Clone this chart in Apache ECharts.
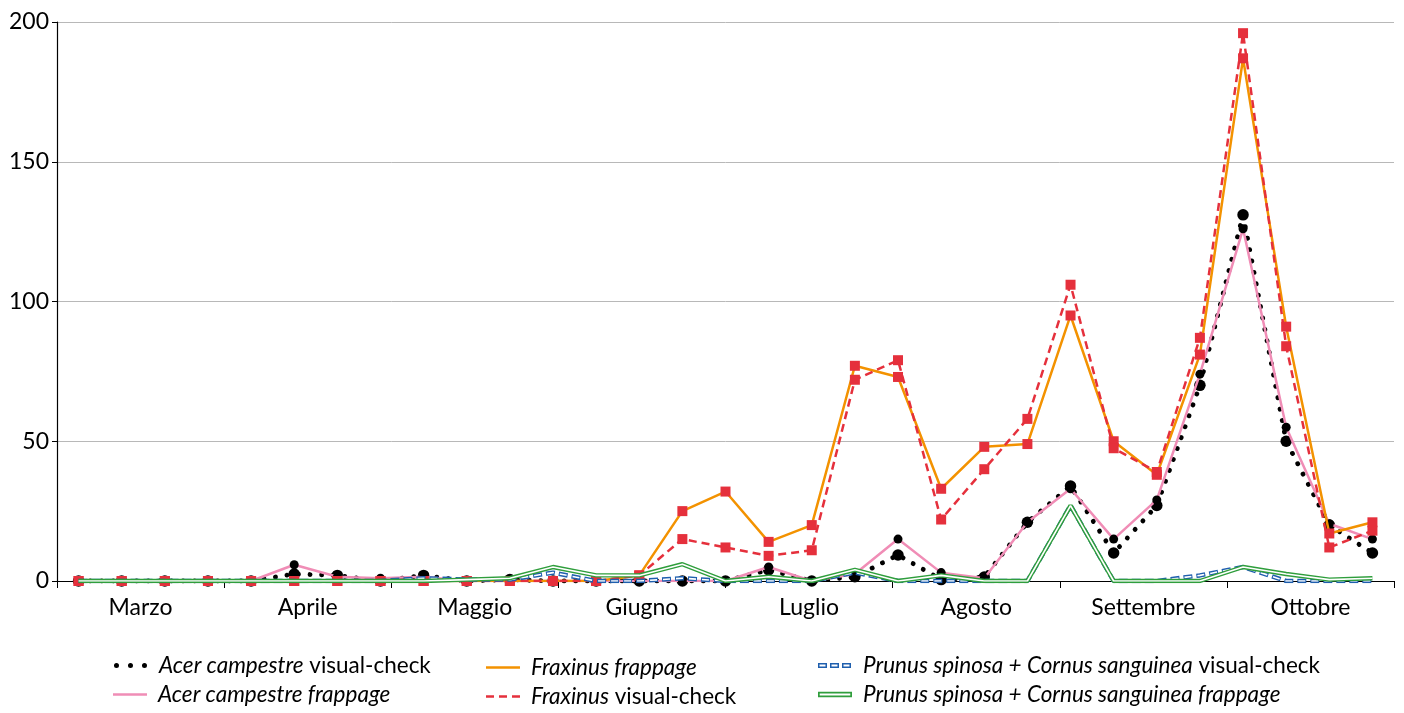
<!DOCTYPE html>
<html>
<head>
<meta charset="utf-8">
<script src="https://cdn.jsdelivr.net/npm/echarts@6/dist/echarts.min.js"></script>
<style>
html,body{margin:0;padding:0;background:#fff;}
#chart{width:1404px;height:713px;}
</style>
</head>
<body>
<div id="chart"></div>
<script>
// Sampling dates (31 weekly samples) – labels hidden
const weeks = ['1','2','3','4','5','6','7','8','9','10','11','12','13','14','15','16','17','18','19','20','21','22','23','24','25','26','27','28','29','30','31'];
// Month labels on the axis
const months = ['Marzo','Aprile','Maggio','Giugno','Luglio','Agosto','Settembre','Ottobre'];
// Y axis ticks
const yTicks = [0, 50, 100, 150, 200];

const acerVisual   = [0,0,0,0,0, 2.5,2,0,2,0, 0.5,0,0,0,0, 0,4,0,1.5,9.3, 0.5,1.4,21,34,10, 27,70,131,50,20, 10];
const acerFrappage = [0,0,0,0,0, 5.8,1.5,1,1.5,0, 0,0,0,0,0, 0,5,0,2.5,15, 3,1,21,33,15, 29,74,126,55,20.5, 15];
const fraxFrappage = [0,0,0,0,0, 0,0,0,0,0, 0,0,0,2,25, 32,14,20,77,73, 33,48,49,95,50, 38,81,187,91,17, 21];
const fraxVisual   = [0,0,0,0,0, 0,0,0,0,0, 0,0,0,2,15, 12,9,11,72,79, 22,40,58,106,47.5, 39,87,196,84,12, 18];
const prunVisual   = [0,0,0,0,0, 0,0,0,1,0.5, 0.5,3,0,0,1, 0,0,0,3,0, 0,0,0,27,0, 0,2,5,0,0, 0];
const prunFrappage = [0,0,0,0,0, 0,0,0,0,0.5, 1,5,2,2,6, 0,1.5,0,4,0, 2,0,0,27,0, 0,0,5,2.5,0.5, 1];

const names = [
  'Acer campestre visual-check',
  'Acer campestre frappage',
  'Fraxinus frappage',
  'Fraxinus visual-check',
  'Prunus spinosa + Cornus sanguinea visual-check',
  'Prunus spinosa + Cornus sanguinea frappage'
];

const C = {
  black:'#000000', pink:'#f08db6', orange:'#f39200', red:'#e5303c', blue:'#1f5fae', green:'#2f9e3c'
};
const FONT = 'Lato, "Open Sans", sans-serif';

const chart = echarts.init(document.getElementById('chart'), null, {renderer:'canvas'});

const pad = ' M40,0 L40.01,0 L40.01,0.01 Z';
const icons = {
  dots: 'path://M0,2.5 A2.5,2.5 0 1,0 5,2.5 A2.5,2.5 0 1,0 0,2.5 Z M14,2.5 A2.5,2.5 0 1,0 19,2.5 A2.5,2.5 0 1,0 14,2.5 Z M28,2.5 A2.5,2.5 0 1,0 33,2.5 A2.5,2.5 0 1,0 28,2.5 Z' + ' M40,0 L40.01,0 L40.01,0.01 Z M0,5 L0.01,5 L0.01,4.99 Z',
  line: 'path://M0,0 L34,0 L34,2.5 L0,2.5 Z' + pad,
  dash: 'path://M0,0 L8,0 L8,2.5 L0,2.5 Z M13,0 L21,0 L21,2.5 L13,2.5 Z M26,0 L34,0 L34,2.5 L26,2.5 Z' + pad,
  hollowDash: 'path://M0,0 L9,0 L9,5 L0,5 Z M1.5,1.5 L1.5,3.5 L7.5,3.5 L7.5,1.5 Z M12,0 L21,0 L21,5 L12,5 Z M13.5,1.5 L13.5,3.5 L19.5,3.5 L19.5,1.5 Z M24,0 L33,0 L33,5 L24,5 Z M25.5,1.5 L25.5,3.5 L31.5,3.5 L31.5,1.5 Z' + pad,
  double: 'path://M0,0 L34,0 L34,5.6 L0,5.6 Z M1.7,1.7 L1.7,3.9 L32.3,3.9 L32.3,1.7 Z' + pad
};

const LFS = 22.5;
function legend(name, icon, color, w, h, left, top, fmt) {
  return {
    data: [{name: name, icon: icon, itemStyle: {color: color, borderWidth: 0}}],
    left: left, top: top, padding: 0,
    itemWidth: w, itemHeight: h, symbolKeepAspect: false,
    selectedMode: false,
    formatter: function(){ return fmt; },
    textStyle: {
      fontFamily: FONT, fontSize: LFS, color: '#000',
      rich: {
        i: {fontFamily: FONT, fontSize: LFS, fontStyle: 'italic', color: '#000'},
        n: {fontFamily: FONT, fontSize: LFS, fontStyle: 'normal', color: '#000'}
      }
    }
  };
}

const option = {
  backgroundColor: '#ffffff',
  animation: false,
  grid: {left: 57, right: 10, top: 22, bottom: 132, containLabel: false},
  xAxis: [
    {
      type: 'category', data: weeks, boundaryGap: true, position: 'top', show: false
    },
    {
      type: 'category', data: months, boundaryGap: true, position: 'bottom',
      axisLine: {show: true, lineStyle: {color: '#000', width: 1.2}},
      axisTick: {show: true, length: 7, lineStyle: {color: '#000'}},
      axisLabel: {fontFamily: FONT, fontSize: 23, color: '#000', margin: 15},
      splitLine: {show: false}
    }
  ],
  yAxis: {
    type: 'value', min: yTicks[0], max: yTicks[yTicks.length-1], interval: 50,
    axisLine: {show: true, lineStyle: {color: '#000', width: 1.2}},
    axisTick: {show: true, length: 5, lineStyle: {color: '#000'}},
    axisLabel: {fontFamily: FONT, fontSize: 23, color: '#000', margin: 8},
    splitLine: {show: true, lineStyle: {color: '#b8b8b8', width: 1}}
  },
  legend: [
    legend(names[0], icons.dots, C.black, 40, 5, 114, 654, '{i|Acer campestre} {n|visual-check}'),
    legend(names[1], icons.line, C.pink, 40, 2.5, 113, 683, '{i|Acer campestre frappage}'),
    legend(names[2], icons.line, C.orange, 40, 2.5, 486, 656, '{i|Fraxinus frappage}'),
    legend(names[3], icons.dash, C.red, 40, 2.5, 486, 685, '{i|Fraxinus} {n|visual-check}'),
    legend(names[4], icons.hollowDash, C.blue, 40, 5, 818, 654, '{i|Prunus spinosa + Cornus sanguinea} {n|visual-check}'),
    legend(names[5], icons.double, C.green, 40, 5.6, 818, 683, '{i|Prunus spinosa + Cornus sanguinea frappage}')
  ],
  series: [
    {
      name: names[0], type: 'line', data: acerVisual, xAxisIndex: 0,
      symbol: 'circle', symbolSize: 11.5, showSymbol: true,
      itemStyle: {color: C.black},
      lineStyle: {color: C.black, width: 4.8, type: [0.1, 11.5], cap: 'round'},
      z: 2
    },
    {
      name: names[1], type: 'line', data: acerFrappage, xAxisIndex: 0,
      symbol: 'circle', symbolSize: 9,
      itemStyle: {color: C.black},
      lineStyle: {color: C.pink, width: 2.5},
      z: 3
    },
    {
      name: names[2], type: 'line', data: fraxFrappage, xAxisIndex: 0,
      symbol: 'rect', symbolSize: 10,
      itemStyle: {color: C.red},
      lineStyle: {color: C.orange, width: 2.5},
      z: 4
    },
    {
      name: names[3], type: 'line', data: fraxVisual, xAxisIndex: 0,
      symbol: 'rect', symbolSize: 10,
      itemStyle: {color: C.red},
      lineStyle: {color: C.red, width: 2.5, type: [8, 5]},
      z: 5
    },
    {
      name: names[4], type: 'line', data: prunVisual, xAxisIndex: 0,
      symbol: 'none',
      itemStyle: {color: C.blue},
      lineStyle: {color: C.blue, width: 4.5, type: [9, 4]},
      z: 6
    },
    {
      name: 'prunVisualInner', type: 'line', data: prunVisual, xAxisIndex: 0,
      symbol: 'none', silent: true,
      lineStyle: {color: '#ffffff', width: 1.6, type: [7, 6], dashOffset: -1},
      z: 7
    },
    {
      name: names[5], type: 'line', data: prunFrappage, xAxisIndex: 0,
      symbol: 'none',
      itemStyle: {color: C.green},
      lineStyle: {color: C.green, width: 4.4},
      z: 8
    },
    {
      name: 'prunFrappageInner', type: 'line', data: prunFrappage, xAxisIndex: 0,
      symbol: 'none', silent: true,
      lineStyle: {color: '#ffffff', width: 1.6},
      z: 9
    }
  ]
};
chart.setOption(option);
</script>
</body>
</html>
